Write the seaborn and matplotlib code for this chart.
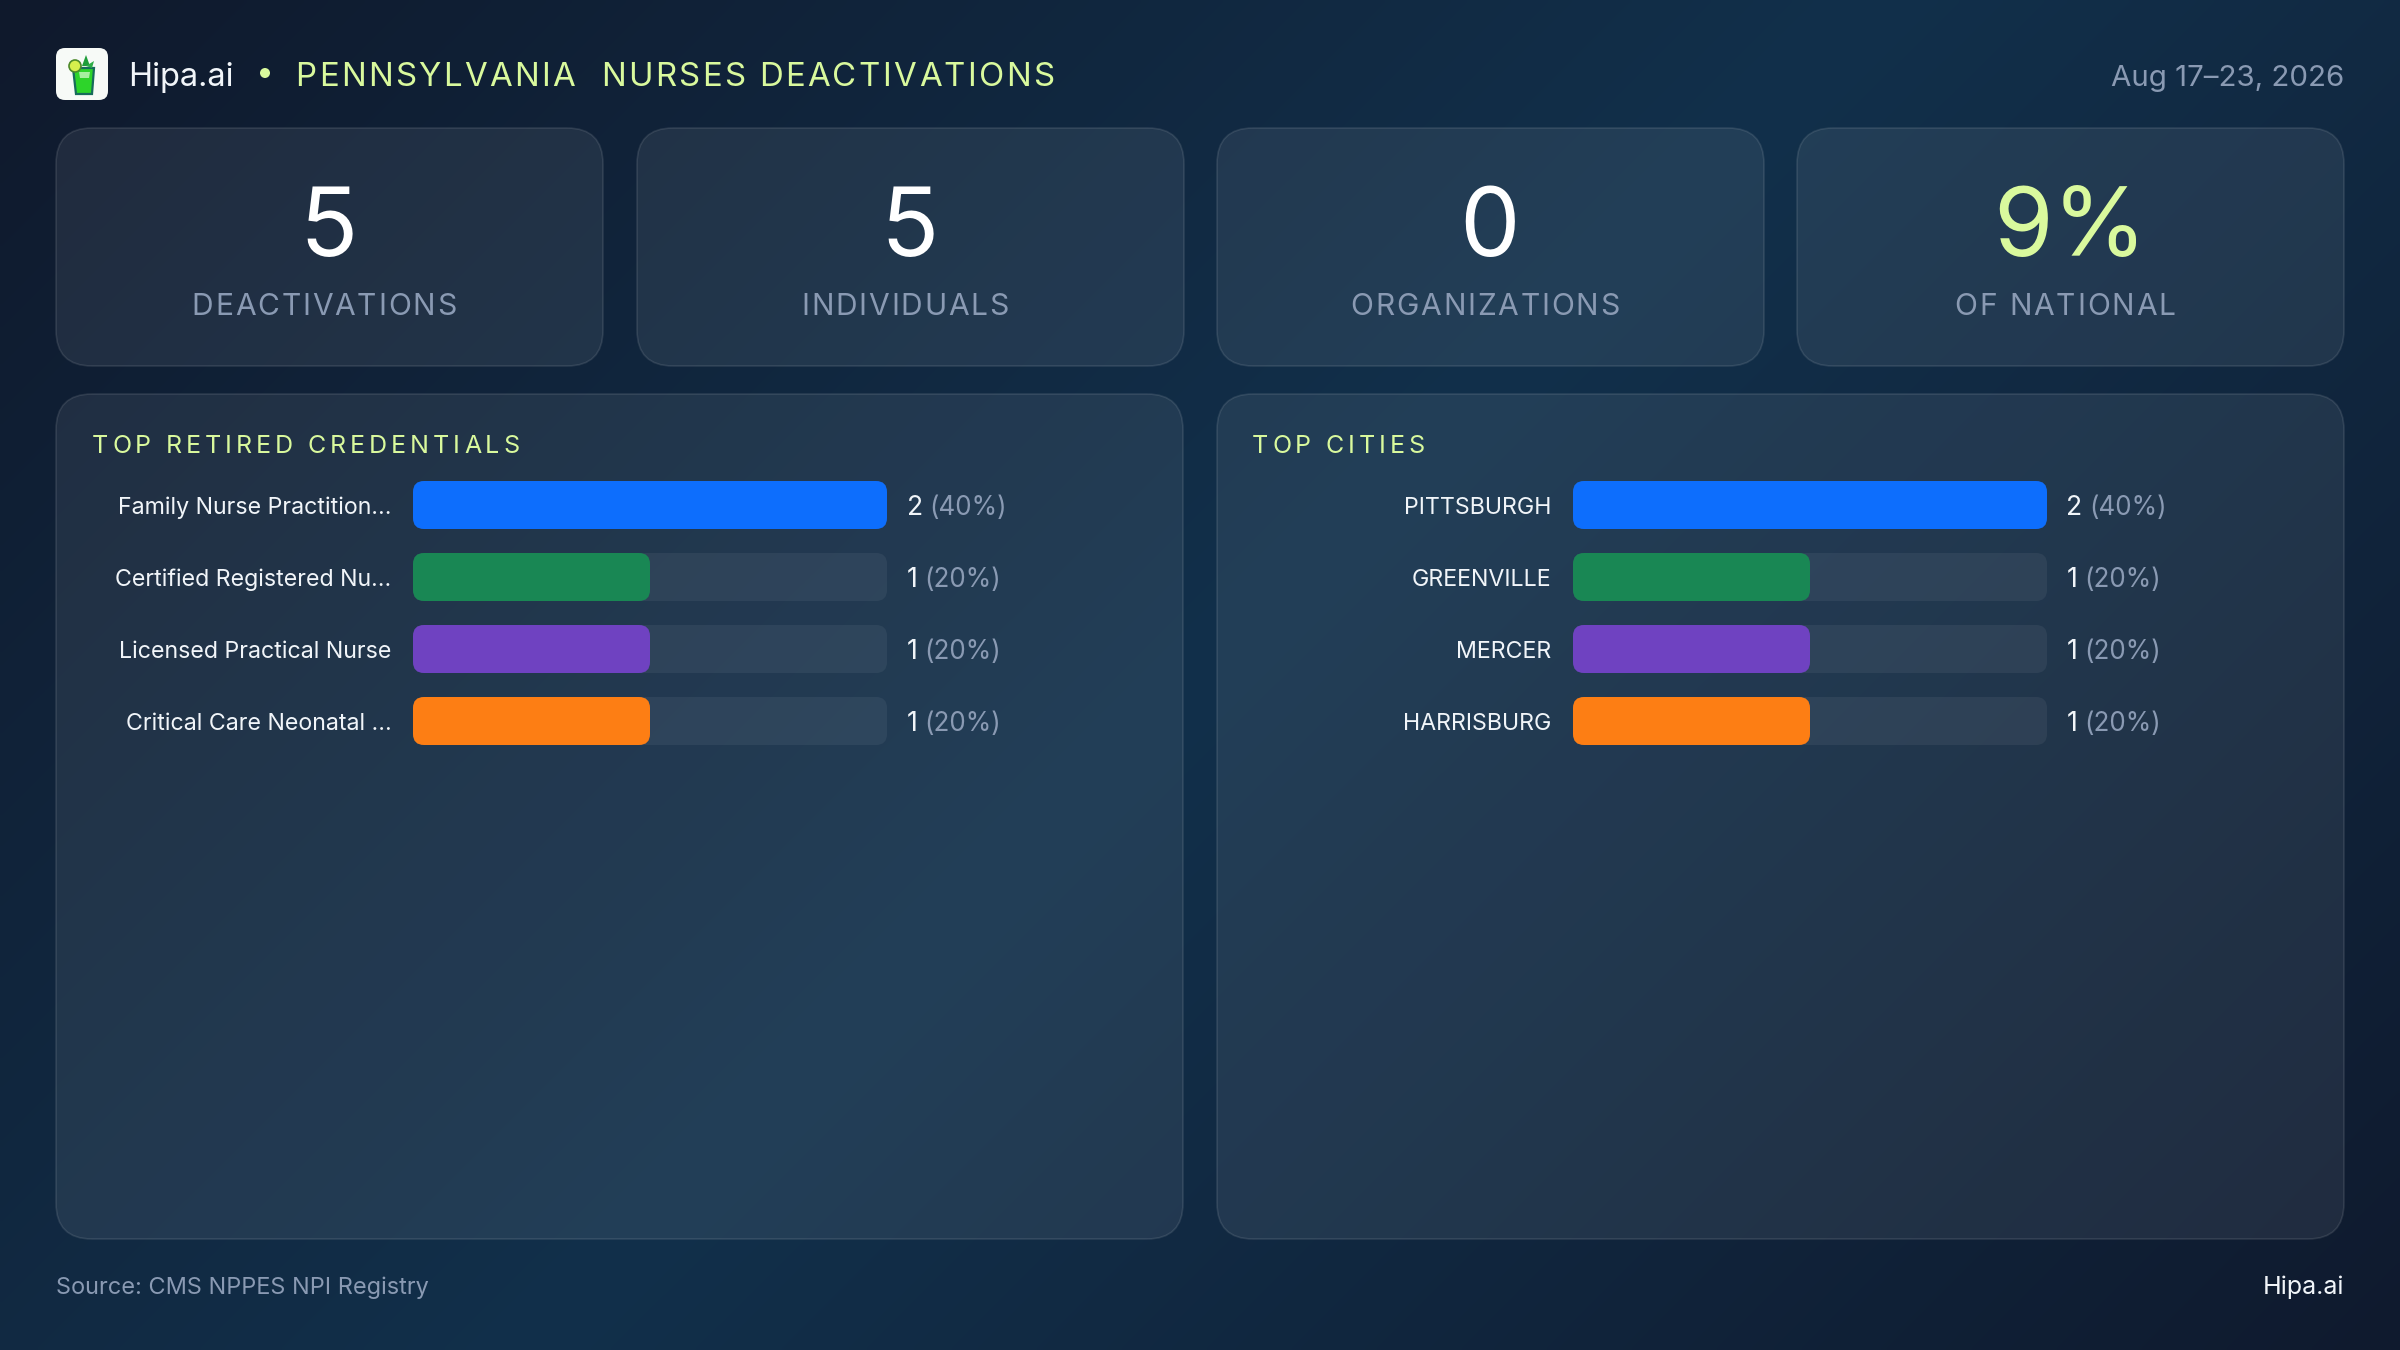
import numpy as np
import pandas as pd
import matplotlib
matplotlib.use('Agg')
import matplotlib.pyplot as plt
from matplotlib.patches import FancyBboxPatch, Polygon, Circle
from matplotlib.text import Text
from matplotlib.transforms import IdentityTransform
import seaborn as sns

# chart values
state_title = 'PENNSYLVANIA  NURSES DEACTIVATIONS'
date_range = 'Aug 17–23, 2026'
source_text = 'Source: CMS NPPES NPI Registry'
brand = 'Hipa.ai'

kpi_values = ['5', '5', '0', '9%']
kpi_labels = ['DEACTIVATIONS', 'INDIVIDUALS', 'ORGANIZATIONS', 'OF NATIONAL']

credentials = ['Family Nurse Practition…', 'Certified Registered Nu…', 'Licensed Practical Nurse', 'Critical Care Neonatal …']
credential_counts = [2, 1, 1, 1]
credential_pcts = [40, 20, 20, 20]

cities = ['PITTSBURGH', 'GREENVILLE', 'MERCER', 'HARRISBURG']
city_counts = [2, 1, 1, 1]
city_pcts = [40, 20, 20, 20]

bar_colors = ['#0d6efd', '#198754', '#6f42c1', '#fd7e14']
LIME = '#d9f99d'
MUTED = '#8a9ab3'
WHITE = '#f1f5f9'
W, H = 2400, 1350

sns.set_theme(style='white')
plt.rcParams['font.family'] = ['Inter', 'DejaVu Sans']

fig = plt.figure(figsize=(24, 13.5), dpi=100)


class SpacedText(Text):
    # one text artist, but drawn with letter spacing (matplotlib has no tracking option)
    def __init__(self, *args, spacing=0, **kwargs):
        super().__init__(*args, **kwargs)
        self.spacing = spacing

    def draw(self, renderer):
        s = self.get_text()
        fp = self.get_fontproperties()
        x, y = self.get_transform().transform(self.get_position())

        def width(part):
            return renderer.get_text_width_height_descent(part, fp, False)[0] if part else 0

        total = width(s) + self.spacing * (len(s) - 1)
        if self.get_ha() == 'center':
            x -= total / 2
        for i, ch in enumerate(s):
            if ch == ' ':
                continue
            t = Text(x + width(s[:i]) + i * self.spacing, y, ch, color=self.get_color(),
                     fontproperties=fp, ha='left', va='baseline', transform=IdentityTransform())
            t.set_figure(self.get_figure())
            t.draw(renderer)


# background gradient, 135deg
bg = fig.add_axes([0, 0, 1, 1], zorder=0)
yy, xx = np.mgrid[0:1:270j, 0:1:480j]
t = (xx * W + yy * H) / (W + H)
stops = np.array([[15, 25, 44], [18, 48, 75], [15, 26, 46]]) / 255
img = np.dstack([np.interp(t, [0, 0.5, 1], stops[:, c]) for c in range(3)])
bg.imshow(img, extent=(0, W, H, 0), aspect='auto', interpolation='bilinear')
bg.set_xlim(0, W)
bg.set_ylim(H, 0)
bg.axis('off')


def card(x0, y0, x1, y1, r=36):
    bg.add_patch(FancyBboxPatch((x0, y0), x1 - x0, y1 - y0,
                                boxstyle=f'round,pad=0,rounding_size={r}',
                                fc=(1, 1, 1, 0.075), ec=(1, 1, 1, 0.1), lw=1.2))


def fs(px):
    return px * 0.72


def spaced(x, y, s, px, color, spacing, ha='left'):
    bg.add_artist(SpacedText(x, y, s, spacing=spacing, color=color, fontsize=fs(px), ha=ha, va='baseline'))


# header
bg.add_patch(FancyBboxPatch((56, 48), 52, 52, boxstyle='round,pad=0,rounding_size=9', fc='#f7faf7', ec='none'))
bg.add_patch(Polygon([(73, 68), (94, 68), (92, 94), (76, 94)], fc='#2dd42a', ec='#176b5b', lw=1.6))
bg.add_patch(Polygon([(79, 72), (90, 72), (89, 78), (80, 78)], fc='#a6efa0', ec='none'))
bg.add_patch(Polygon([(82, 66), (86, 55), (90, 66)], fc='#1f9d3a', ec='none'))
bg.add_patch(Polygon([(86, 66), (94, 61), (92, 68)], fc='#2fae48', ec='none'))
bg.add_patch(Circle((75, 66), 6, fc='#d6ef4d', ec='#4d8a2a', lw=1.2))

bg.text(128, 86, brand, color=WHITE, fontsize=fs(32.5), va='baseline', ha='left')
bg.add_patch(Circle((265, 73), 5, fc=LIME, ec='none'))
spaced(295.5, 86, state_title, 33, LIME, 2.35)
bg.text(2344, 86, date_range, color=MUTED, fontsize=fs(29.5), va='baseline', ha='right')

# kpi cards
card_lefts = [56, 637, 1217, 1797]
for left, val, lab in zip(card_lefts, kpi_values, kpi_labels):
    card(left, 128, left + 547, 366)
    c = LIME if val.endswith('%') else 'white'
    bg.text(left + 273, 256, val, color=c, fontsize=fs(96), ha='center', va='baseline')
    spaced(left + 268, 315, lab, 30, MUTED, 1.8, ha='center')

# lower panels
for left, title, tx in [(56, 'TOP RETIRED CREDENTIALS', 92), (1217, 'TOP CITIES', 1252)]:
    card(left, 394, left + 1127, 1239)
    spaced(tx, 453, title, 25, LIME, 3.9)

# footer
bg.text(56, 1294, source_text, color=MUTED, fontsize=fs(23.5), ha='left', va='baseline')
bg.text(2344, 1294, brand, color=WHITE, fontsize=fs(25), ha='right', va='baseline')


def round_bars(ax, r_px=11):
    # swap the seaborn rectangles for rounded ones of the same size
    xu = ax.get_xlim()[1] / (ax.get_position().width * W)
    yu = 4 / (ax.get_position().height * H)
    for p in list(ax.patches):
        x, y, w, h = p.get_x(), p.get_y(), p.get_width(), p.get_height()
        fc = p.get_facecolor()
        p.remove()
        ax.add_patch(FancyBboxPatch((x, y), w, h,
                                    boxstyle=f'round,pad=0,rounding_size={r_px * xu}',
                                    mutation_aspect=yu / xu, fc=fc, ec='none', clip_on=False))


def bar_panel(x0, x1, labels, counts, pcts):
    y0, y1 = 469, 757
    ax = fig.add_axes([x0 / W, 1 - y1 / H, (x1 - x0) / W, (y1 - y0) / H], zorder=2)
    ax.patch.set_alpha(0)
    df = pd.DataFrame({'label': labels, 'count': counts})
    top = max(counts)
    sns.barplot(x=[top] * len(labels), y=labels, color='white', alpha=0.06, width=48 / 72,
                saturation=1, ax=ax)
    sns.barplot(data=df, x='count', y='label', hue='label', palette=bar_colors, legend=False,
                width=48 / 72, saturation=1, ax=ax, dodge=False)
    ax.set_xlim(0, top)
    ax.set_ylim(3.5, -0.5)
    ax.set_xlabel('')
    ax.set_ylabel('')
    ax.set_xticks([])
    ax.tick_params(axis='y', length=0, pad=15.5, labelsize=fs(23.2), labelcolor=WHITE)
    sns.despine(ax=ax, left=True, bottom=True)
    round_bars(ax)

    rend = fig.canvas.get_renderer()
    for i, (n, pct) in enumerate(zip(counts, pcts)):
        t1 = ax.annotate(str(n), (top, i), xytext=(19.5 * 0.72, -2), textcoords='offset points',
                         color=WHITE, fontsize=fs(26.5), va='center', ha='left', annotation_clip=False)
        gap = t1.get_window_extent(rend).width + 7
        ax.annotate(f'({pct}%)', (top, i), xytext=((19.5 + gap) * 0.72, -2), textcoords='offset points',
                    color=MUTED, fontsize=fs(26), va='center', ha='left', annotation_clip=False)


bar_panel(413, 887, credentials, credential_counts, credential_pcts)
bar_panel(1573, 2047, cities, city_counts, city_pcts)

fig.savefig('out.png', dpi=100)
